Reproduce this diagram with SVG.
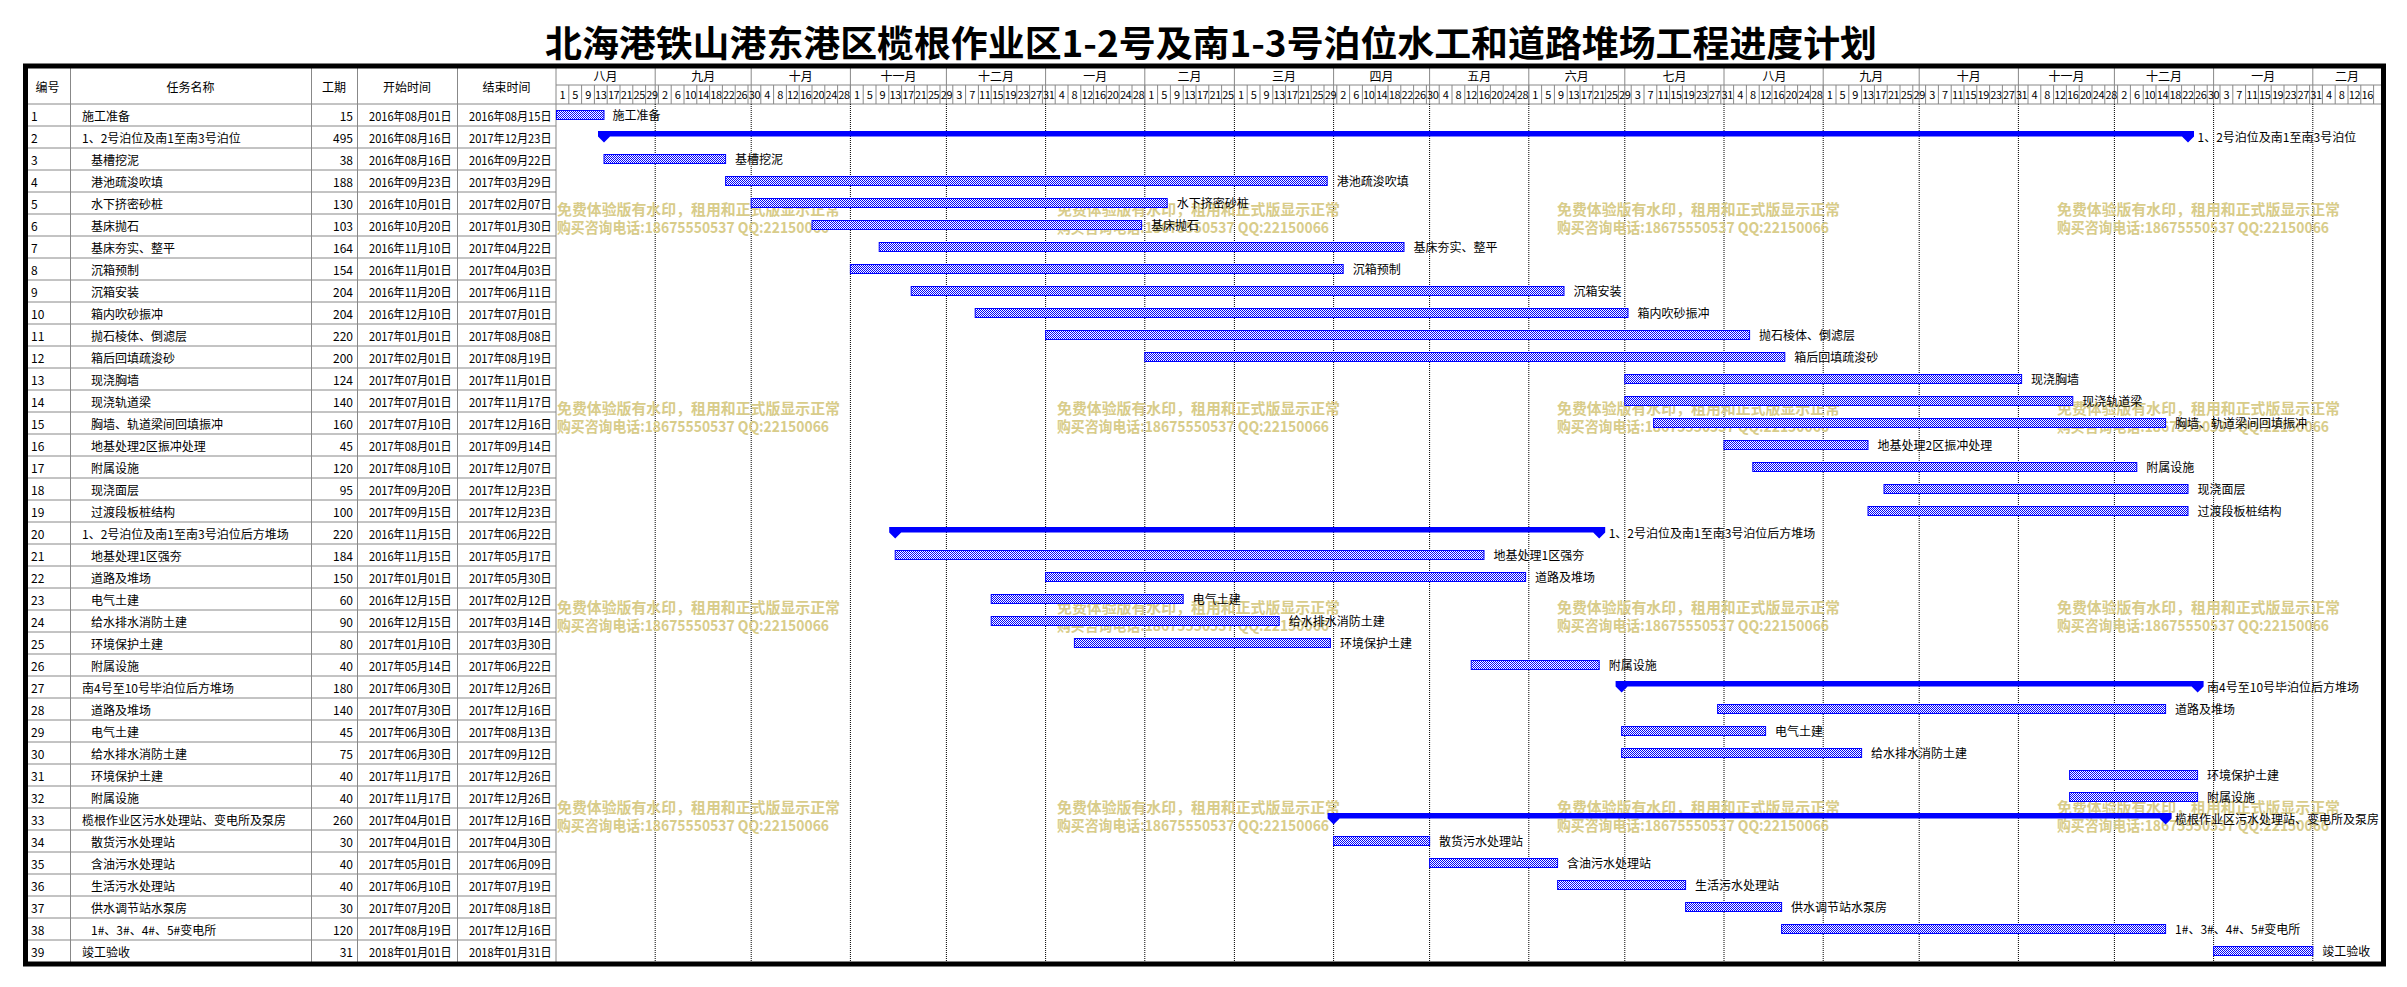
<svg xmlns="http://www.w3.org/2000/svg" width="2407" height="987" viewBox="0 0 2407 987">
<defs>
<pattern id="hatch" width="2" height="2" patternUnits="userSpaceOnUse">
<rect width="2" height="2" fill="#ffffff"/>
<rect width="1" height="1" fill="#0000ff"/>
<rect x="1" y="1" width="1" height="1" fill="#0000ff"/>
</pattern>
</defs>
<style>
text{font-family:"Noto Sans CJK SC","Liberation Sans",sans-serif;fill:#000}
.t{font-size:12px}
.e{text-anchor:end}
.c{text-anchor:middle}
.h{font-size:12px;text-anchor:middle}
.day{font-size:11px;letter-spacing:-0.4px;text-anchor:middle}
.wm{font-size:15px;font-weight:bold;fill:#d8cc8a}
.lbl{font-size:12px}
.bar{fill:url(#hatch);stroke:#0000ff;stroke-width:1}
.sum{fill:#0000ff}
.grid{stroke:#888888;stroke-width:1;fill:none}
.dot{stroke:#000000;stroke-width:1;stroke-dasharray:1 1;fill:none}
</style>
<rect width="2407" height="987" fill="#ffffff"/>
<text x="1211" y="57" font-size="36" font-weight="bold" text-anchor="middle" textLength="1332" lengthAdjust="spacingAndGlyphs">北海港铁山港东港区榄根作业区1-2号及南1-3号泊位水工和道路堆场工程进度计划</text>

<g id="grid">
<path class="grid" d="M70.5 68V962M311.5 68V962M357.5 68V962M457.5 68V962M556 68V962M28 104H2381M556 85H2381M28 126H556M28 148H556M28 170H556M28 192H556M28 214H556M28 236H556M28 258H556M28 280H556M28 302H556M28 324H556M28 346H556M28 368H556M28 390H556M28 412H556M28 434H556M28 456H556M28 478H556M28 500H556M28 522H556M28 544H556M28 566H556M28 588H556M28 610H556M28 632H556M28 654H556M28 676H556M28 698H556M28 720H556M28 742H556M28 764H556M28 786H556M28 808H556M28 830H556M28 852H556M28 874H556M28 896H556M28 918H556M28 940H556"/>
<path class="grid" d="M655.2 68V104M751.2 68V104M850.4 68V104M946.4 68V104M1045.6 68V104M1144.8 68V104M1234.4 68V104M1333.6 68V104M1429.6 68V104M1528.8 68V104M1624.8 68V104M1724 68V104M1823.2 68V104M1919.2 68V104M2018.4 68V104M2114.4 68V104M2213.6 68V104M2312.8 68V104"/>
<path class="grid" d="M568.8 85V104M581.6 85V104M594.4 85V104M607.2 85V104M620 85V104M632.8 85V104M645.6 85V104M658.4 85V104M671.2 85V104M684 85V104M696.8 85V104M709.6 85V104M722.4 85V104M735.2 85V104M748 85V104M760.8 85V104M773.6 85V104M786.4 85V104M799.2 85V104M812 85V104M824.8 85V104M837.6 85V104M850.4 85V104M863.2 85V104M876 85V104M888.8 85V104M901.6 85V104M914.4 85V104M927.2 85V104M940 85V104M952.8 85V104M965.6 85V104M978.4 85V104M991.2 85V104M1004 85V104M1016.8 85V104M1029.6 85V104M1042.4 85V104M1055.2 85V104M1068 85V104M1080.8 85V104M1093.6 85V104M1106.4 85V104M1119.2 85V104M1132 85V104M1144.8 85V104M1157.6 85V104M1170.4 85V104M1183.2 85V104M1196 85V104M1208.8 85V104M1221.6 85V104M1234.4 85V104M1247.2 85V104M1260 85V104M1272.8 85V104M1285.6 85V104M1298.4 85V104M1311.2 85V104M1324 85V104M1336.8 85V104M1349.6 85V104M1362.4 85V104M1375.2 85V104M1388 85V104M1400.8 85V104M1413.6 85V104M1426.4 85V104M1439.2 85V104M1452 85V104M1464.8 85V104M1477.6 85V104M1490.4 85V104M1503.2 85V104M1516 85V104M1528.8 85V104M1541.6 85V104M1554.4 85V104M1567.2 85V104M1580 85V104M1592.8 85V104M1605.6 85V104M1618.4 85V104M1631.2 85V104M1644 85V104M1656.8 85V104M1669.6 85V104M1682.4 85V104M1695.2 85V104M1708 85V104M1720.8 85V104M1733.6 85V104M1746.4 85V104M1759.2 85V104M1772 85V104M1784.8 85V104M1797.6 85V104M1810.4 85V104M1823.2 85V104M1836 85V104M1848.8 85V104M1861.6 85V104M1874.4 85V104M1887.2 85V104M1900 85V104M1912.8 85V104M1925.6 85V104M1938.4 85V104M1951.2 85V104M1964 85V104M1976.8 85V104M1989.6 85V104M2002.4 85V104M2015.2 85V104M2028 85V104M2040.8 85V104M2053.6 85V104M2066.4 85V104M2079.2 85V104M2092 85V104M2104.8 85V104M2117.6 85V104M2130.4 85V104M2143.2 85V104M2156 85V104M2168.8 85V104M2181.6 85V104M2194.4 85V104M2207.2 85V104M2220 85V104M2232.8 85V104M2245.6 85V104M2258.4 85V104M2271.2 85V104M2284 85V104M2296.8 85V104M2309.6 85V104M2322.4 85V104M2335.2 85V104M2348 85V104M2360.8 85V104M2373.6 85V104"/>
<path class="dot" d="M655.2 104V962M751.2 104V962M850.4 104V962M946.4 104V962M1045.6 104V962M1144.8 104V962M1234.4 104V962M1333.6 104V962M1429.6 104V962M1528.8 104V962M1624.8 104V962M1724 104V962M1823.2 104V962M1919.2 104V962M2018.4 104V962M2114.4 104V962M2213.6 104V962M2312.8 104V962"/>
</g>

<g id="header">
<text class="h" x="47.5" y="91.5">编号</text>
<text class="h" x="190.5" y="91.5">任务名称</text>
<text class="h" x="334" y="91.5">工期</text>
<text class="h" x="407" y="91.5">开始时间</text>
<text class="h" x="506.5" y="91.5">结束时间</text>
<text class="h" x="605.6" y="81">八月</text>
<text class="h" x="703.2" y="81">九月</text>
<text class="h" x="800.8" y="81">十月</text>
<text class="h" x="898.4" y="81">十一月</text>
<text class="h" x="996" y="81">十二月</text>
<text class="h" x="1095.2" y="81">一月</text>
<text class="h" x="1189.6" y="81">二月</text>
<text class="h" x="1284" y="81">三月</text>
<text class="h" x="1381.6" y="81">四月</text>
<text class="h" x="1479.2" y="81">五月</text>
<text class="h" x="1576.8" y="81">六月</text>
<text class="h" x="1674.4" y="81">七月</text>
<text class="h" x="1774.4" y="81">八月</text>
<text class="h" x="1871.2" y="81">九月</text>
<text class="h" x="1968.8" y="81">十月</text>
<text class="h" x="2066.4" y="81">十一月</text>
<text class="h" x="2164" y="81">十二月</text>
<text class="h" x="2263.2" y="81">一月</text>
<text class="h" x="2347" y="81">二月</text>
<text class="day" y="99"><tspan x="562.4">1</tspan><tspan x="575.2">5</tspan><tspan x="588">9</tspan><tspan x="600.8">13</tspan><tspan x="613.6">17</tspan><tspan x="626.4">21</tspan><tspan x="639.2">25</tspan><tspan x="652">29</tspan><tspan x="664.8">2</tspan><tspan x="677.6">6</tspan><tspan x="690.4">10</tspan><tspan x="703.2">14</tspan><tspan x="716">18</tspan><tspan x="728.8">22</tspan><tspan x="741.6">26</tspan><tspan x="754.4">30</tspan><tspan x="767.2">4</tspan><tspan x="780">8</tspan><tspan x="792.8">12</tspan><tspan x="805.6">16</tspan><tspan x="818.4">20</tspan><tspan x="831.2">24</tspan><tspan x="844">28</tspan><tspan x="856.8">1</tspan><tspan x="869.6">5</tspan><tspan x="882.4">9</tspan><tspan x="895.2">13</tspan><tspan x="908">17</tspan><tspan x="920.8">21</tspan><tspan x="933.6">25</tspan><tspan x="946.4">29</tspan><tspan x="959.2">3</tspan><tspan x="972">7</tspan><tspan x="984.8">11</tspan><tspan x="997.6">15</tspan><tspan x="1010.4">19</tspan><tspan x="1023.2">23</tspan><tspan x="1036">27</tspan><tspan x="1048.8">31</tspan><tspan x="1061.6">4</tspan><tspan x="1074.4">8</tspan><tspan x="1087.2">12</tspan><tspan x="1100">16</tspan><tspan x="1112.8">20</tspan><tspan x="1125.6">24</tspan><tspan x="1138.4">28</tspan><tspan x="1151.2">1</tspan><tspan x="1164">5</tspan><tspan x="1176.8">9</tspan><tspan x="1189.6">13</tspan><tspan x="1202.4">17</tspan><tspan x="1215.2">21</tspan><tspan x="1228">25</tspan><tspan x="1240.8">1</tspan><tspan x="1253.6">5</tspan><tspan x="1266.4">9</tspan><tspan x="1279.2">13</tspan><tspan x="1292">17</tspan><tspan x="1304.8">21</tspan><tspan x="1317.6">25</tspan><tspan x="1330.4">29</tspan><tspan x="1343.2">2</tspan><tspan x="1356">6</tspan><tspan x="1368.8">10</tspan><tspan x="1381.6">14</tspan><tspan x="1394.4">18</tspan><tspan x="1407.2">22</tspan><tspan x="1420">26</tspan><tspan x="1432.8">30</tspan><tspan x="1445.6">4</tspan><tspan x="1458.4">8</tspan><tspan x="1471.2">12</tspan><tspan x="1484">16</tspan><tspan x="1496.8">20</tspan><tspan x="1509.6">24</tspan><tspan x="1522.4">28</tspan><tspan x="1535.2">1</tspan><tspan x="1548">5</tspan><tspan x="1560.8">9</tspan><tspan x="1573.6">13</tspan><tspan x="1586.4">17</tspan><tspan x="1599.2">21</tspan><tspan x="1612">25</tspan><tspan x="1624.8">29</tspan><tspan x="1637.6">3</tspan><tspan x="1650.4">7</tspan><tspan x="1663.2">11</tspan><tspan x="1676">15</tspan><tspan x="1688.8">19</tspan><tspan x="1701.6">23</tspan><tspan x="1714.4">27</tspan><tspan x="1727.2">31</tspan><tspan x="1740">4</tspan><tspan x="1752.8">8</tspan><tspan x="1765.6">12</tspan><tspan x="1778.4">16</tspan><tspan x="1791.2">20</tspan><tspan x="1804">24</tspan><tspan x="1816.8">28</tspan><tspan x="1829.6">1</tspan><tspan x="1842.4">5</tspan><tspan x="1855.2">9</tspan><tspan x="1868">13</tspan><tspan x="1880.8">17</tspan><tspan x="1893.6">21</tspan><tspan x="1906.4">25</tspan><tspan x="1919.2">29</tspan><tspan x="1932">3</tspan><tspan x="1944.8">7</tspan><tspan x="1957.6">11</tspan><tspan x="1970.4">15</tspan><tspan x="1983.2">19</tspan><tspan x="1996">23</tspan><tspan x="2008.8">27</tspan><tspan x="2021.6">31</tspan><tspan x="2034.4">4</tspan><tspan x="2047.2">8</tspan><tspan x="2060">12</tspan><tspan x="2072.8">16</tspan><tspan x="2085.6">20</tspan><tspan x="2098.4">24</tspan><tspan x="2111.2">28</tspan><tspan x="2124">2</tspan><tspan x="2136.8">6</tspan><tspan x="2149.6">10</tspan><tspan x="2162.4">14</tspan><tspan x="2175.2">18</tspan><tspan x="2188">22</tspan><tspan x="2200.8">26</tspan><tspan x="2213.6">30</tspan><tspan x="2226.4">3</tspan><tspan x="2239.2">7</tspan><tspan x="2252">11</tspan><tspan x="2264.8">15</tspan><tspan x="2277.6">19</tspan><tspan x="2290.4">23</tspan><tspan x="2303.2">27</tspan><tspan x="2316">31</tspan><tspan x="2328.8">4</tspan><tspan x="2341.6">8</tspan><tspan x="2354.4">12</tspan><tspan x="2367.2">16</tspan></text>
</g>

<g id="watermarks">
<text class="wm" x="557" y="214.5" textLength="283" lengthAdjust="spacingAndGlyphs">免费体验版有水印，租用和正式版显示正常</text>
<text class="wm" x="557" y="232.5" textLength="272" lengthAdjust="spacingAndGlyphs">购买咨询电话:18675550537 QQ:22150066</text>
<text class="wm" x="1057" y="214.5" textLength="283" lengthAdjust="spacingAndGlyphs">免费体验版有水印，租用和正式版显示正常</text>
<text class="wm" x="1057" y="232.5" textLength="272" lengthAdjust="spacingAndGlyphs">购买咨询电话:18675550537 QQ:22150066</text>
<text class="wm" x="1557" y="214.5" textLength="283" lengthAdjust="spacingAndGlyphs">免费体验版有水印，租用和正式版显示正常</text>
<text class="wm" x="1557" y="232.5" textLength="272" lengthAdjust="spacingAndGlyphs">购买咨询电话:18675550537 QQ:22150066</text>
<text class="wm" x="2057" y="214.5" textLength="283" lengthAdjust="spacingAndGlyphs">免费体验版有水印，租用和正式版显示正常</text>
<text class="wm" x="2057" y="232.5" textLength="272" lengthAdjust="spacingAndGlyphs">购买咨询电话:18675550537 QQ:22150066</text>
<text class="wm" x="557" y="413.5" textLength="283" lengthAdjust="spacingAndGlyphs">免费体验版有水印，租用和正式版显示正常</text>
<text class="wm" x="557" y="431.5" textLength="272" lengthAdjust="spacingAndGlyphs">购买咨询电话:18675550537 QQ:22150066</text>
<text class="wm" x="1057" y="413.5" textLength="283" lengthAdjust="spacingAndGlyphs">免费体验版有水印，租用和正式版显示正常</text>
<text class="wm" x="1057" y="431.5" textLength="272" lengthAdjust="spacingAndGlyphs">购买咨询电话:18675550537 QQ:22150066</text>
<text class="wm" x="1557" y="413.5" textLength="283" lengthAdjust="spacingAndGlyphs">免费体验版有水印，租用和正式版显示正常</text>
<text class="wm" x="1557" y="431.5" textLength="272" lengthAdjust="spacingAndGlyphs">购买咨询电话:18675550537 QQ:22150066</text>
<text class="wm" x="2057" y="413.5" textLength="283" lengthAdjust="spacingAndGlyphs">免费体验版有水印，租用和正式版显示正常</text>
<text class="wm" x="2057" y="431.5" textLength="272" lengthAdjust="spacingAndGlyphs">购买咨询电话:18675550537 QQ:22150066</text>
<text class="wm" x="557" y="613" textLength="283" lengthAdjust="spacingAndGlyphs">免费体验版有水印，租用和正式版显示正常</text>
<text class="wm" x="557" y="631" textLength="272" lengthAdjust="spacingAndGlyphs">购买咨询电话:18675550537 QQ:22150066</text>
<text class="wm" x="1057" y="613" textLength="283" lengthAdjust="spacingAndGlyphs">免费体验版有水印，租用和正式版显示正常</text>
<text class="wm" x="1057" y="631" textLength="272" lengthAdjust="spacingAndGlyphs">购买咨询电话:18675550537 QQ:22150066</text>
<text class="wm" x="1557" y="613" textLength="283" lengthAdjust="spacingAndGlyphs">免费体验版有水印，租用和正式版显示正常</text>
<text class="wm" x="1557" y="631" textLength="272" lengthAdjust="spacingAndGlyphs">购买咨询电话:18675550537 QQ:22150066</text>
<text class="wm" x="2057" y="613" textLength="283" lengthAdjust="spacingAndGlyphs">免费体验版有水印，租用和正式版显示正常</text>
<text class="wm" x="2057" y="631" textLength="272" lengthAdjust="spacingAndGlyphs">购买咨询电话:18675550537 QQ:22150066</text>
<text class="wm" x="557" y="813" textLength="283" lengthAdjust="spacingAndGlyphs">免费体验版有水印，租用和正式版显示正常</text>
<text class="wm" x="557" y="831" textLength="272" lengthAdjust="spacingAndGlyphs">购买咨询电话:18675550537 QQ:22150066</text>
<text class="wm" x="1057" y="813" textLength="283" lengthAdjust="spacingAndGlyphs">免费体验版有水印，租用和正式版显示正常</text>
<text class="wm" x="1057" y="831" textLength="272" lengthAdjust="spacingAndGlyphs">购买咨询电话:18675550537 QQ:22150066</text>
<text class="wm" x="1557" y="813" textLength="283" lengthAdjust="spacingAndGlyphs">免费体验版有水印，租用和正式版显示正常</text>
<text class="wm" x="1557" y="831" textLength="272" lengthAdjust="spacingAndGlyphs">购买咨询电话:18675550537 QQ:22150066</text>
<text class="wm" x="2057" y="813" textLength="283" lengthAdjust="spacingAndGlyphs">免费体验版有水印，租用和正式版显示正常</text>
<text class="wm" x="2057" y="831" textLength="272" lengthAdjust="spacingAndGlyphs">购买咨询电话:18675550537 QQ:22150066</text>
</g>

<g id="connectors"></g>

<g id="task-1"><text class="t" x="31" y="120.5">1</text><text class="t" x="82" y="120.5">施工准备</text><text class="t e" x="353" y="120.5">15</text><text class="t" x="369" y="120.5" textLength="82.5" lengthAdjust="spacingAndGlyphs">2016年08月01日</text><text class="t" x="469" y="120.5" textLength="82.5" lengthAdjust="spacingAndGlyphs">2016年08月15日</text><rect class="bar" x="556.5" y="110.5" width="47.5" height="9"/><text class="lbl" x="612.5" y="120">施工准备</text></g>
<g id="task-2"><text class="t" x="31" y="142.5">2</text><text class="t" x="82" y="142.5">1、2号泊位及南1至南3号泊位</text><text class="t e" x="353" y="142.5">495</text><text class="t" x="369" y="142.5" textLength="82.5" lengthAdjust="spacingAndGlyphs">2016年08月16日</text><text class="t" x="469" y="142.5" textLength="82.5" lengthAdjust="spacingAndGlyphs">2017年12月23日</text><path class="sum" d="M598 131H2194V136.5L2188 142.5L2182 136.5H610L604 142.5L598 136.5Z"/><text class="lbl" x="2197.5" y="142">1、2号泊位及南1至南3号泊位</text></g>
<g id="task-3"><text class="t" x="31" y="164.5">3</text><text class="t" x="91" y="164.5">基槽挖泥</text><text class="t e" x="353" y="164.5">38</text><text class="t" x="369" y="164.5" textLength="82.5" lengthAdjust="spacingAndGlyphs">2016年08月16日</text><text class="t" x="469" y="164.5" textLength="82.5" lengthAdjust="spacingAndGlyphs">2016年09月22日</text><rect class="bar" x="604" y="154.5" width="121.6" height="9"/><text class="lbl" x="735.1" y="164">基槽挖泥</text></g>
<g id="task-4"><text class="t" x="31" y="186.5">4</text><text class="t" x="91" y="186.5">港池疏浚吹填</text><text class="t e" x="353" y="186.5">188</text><text class="t" x="369" y="186.5" textLength="82.5" lengthAdjust="spacingAndGlyphs">2016年09月23日</text><text class="t" x="469" y="186.5" textLength="82.5" lengthAdjust="spacingAndGlyphs">2017年03月29日</text><rect class="bar" x="725.6" y="176.5" width="601.6" height="9"/><text class="lbl" x="1336.7" y="186">港池疏浚吹填</text></g>
<g id="task-5"><text class="t" x="31" y="208.5">5</text><text class="t" x="91" y="208.5">水下挤密砂桩</text><text class="t e" x="353" y="208.5">130</text><text class="t" x="369" y="208.5" textLength="82.5" lengthAdjust="spacingAndGlyphs">2016年10月01日</text><text class="t" x="469" y="208.5" textLength="82.5" lengthAdjust="spacingAndGlyphs">2017年02月07日</text><rect class="bar" x="751.2" y="198.5" width="416" height="9"/><text class="lbl" x="1176.7" y="208">水下挤密砂桩</text></g>
<g id="task-6"><text class="t" x="31" y="230.5">6</text><text class="t" x="91" y="230.5">基床抛石</text><text class="t e" x="353" y="230.5">103</text><text class="t" x="369" y="230.5" textLength="82.5" lengthAdjust="spacingAndGlyphs">2016年10月20日</text><text class="t" x="469" y="230.5" textLength="82.5" lengthAdjust="spacingAndGlyphs">2017年01月30日</text><rect class="bar" x="812" y="220.5" width="329.6" height="9"/><text class="lbl" x="1151.1" y="230">基床抛石</text></g>
<g id="task-7"><text class="t" x="31" y="252.5">7</text><text class="t" x="91" y="252.5">基床夯实、整平</text><text class="t e" x="353" y="252.5">164</text><text class="t" x="369" y="252.5" textLength="82.5" lengthAdjust="spacingAndGlyphs">2016年11月10日</text><text class="t" x="469" y="252.5" textLength="82.5" lengthAdjust="spacingAndGlyphs">2017年04月22日</text><rect class="bar" x="879.2" y="242.5" width="524.8" height="9"/><text class="lbl" x="1413.5" y="252">基床夯实、整平</text></g>
<g id="task-8"><text class="t" x="31" y="274.5">8</text><text class="t" x="91" y="274.5">沉箱预制</text><text class="t e" x="353" y="274.5">154</text><text class="t" x="369" y="274.5" textLength="82.5" lengthAdjust="spacingAndGlyphs">2016年11月01日</text><text class="t" x="469" y="274.5" textLength="82.5" lengthAdjust="spacingAndGlyphs">2017年04月03日</text><rect class="bar" x="850.4" y="264.5" width="492.8" height="9"/><text class="lbl" x="1352.7" y="274">沉箱预制</text></g>
<g id="task-9"><text class="t" x="31" y="296.5">9</text><text class="t" x="91" y="296.5">沉箱安装</text><text class="t e" x="353" y="296.5">204</text><text class="t" x="369" y="296.5" textLength="82.5" lengthAdjust="spacingAndGlyphs">2016年11月20日</text><text class="t" x="469" y="296.5" textLength="82.5" lengthAdjust="spacingAndGlyphs">2017年06月11日</text><rect class="bar" x="911.2" y="286.5" width="652.8" height="9"/><text class="lbl" x="1573.5" y="296">沉箱安装</text></g>
<g id="task-10"><text class="t" x="31" y="318.5">10</text><text class="t" x="91" y="318.5">箱内吹砂振冲</text><text class="t e" x="353" y="318.5">204</text><text class="t" x="369" y="318.5" textLength="82.5" lengthAdjust="spacingAndGlyphs">2016年12月10日</text><text class="t" x="469" y="318.5" textLength="82.5" lengthAdjust="spacingAndGlyphs">2017年07月01日</text><rect class="bar" x="975.2" y="308.5" width="652.8" height="9"/><text class="lbl" x="1637.5" y="318">箱内吹砂振冲</text></g>
<g id="task-11"><text class="t" x="31" y="340.5">11</text><text class="t" x="91" y="340.5">抛石棱体、倒滤层</text><text class="t e" x="353" y="340.5">220</text><text class="t" x="369" y="340.5" textLength="82.5" lengthAdjust="spacingAndGlyphs">2017年01月01日</text><text class="t" x="469" y="340.5" textLength="82.5" lengthAdjust="spacingAndGlyphs">2017年08月08日</text><rect class="bar" x="1045.6" y="330.5" width="704" height="9"/><text class="lbl" x="1759.1" y="340">抛石棱体、倒滤层</text></g>
<g id="task-12"><text class="t" x="31" y="362.5">12</text><text class="t" x="91" y="362.5">箱后回填疏浚砂</text><text class="t e" x="353" y="362.5">200</text><text class="t" x="369" y="362.5" textLength="82.5" lengthAdjust="spacingAndGlyphs">2017年02月01日</text><text class="t" x="469" y="362.5" textLength="82.5" lengthAdjust="spacingAndGlyphs">2017年08月19日</text><rect class="bar" x="1144.8" y="352.5" width="640" height="9"/><text class="lbl" x="1794.3" y="362">箱后回填疏浚砂</text></g>
<g id="task-13"><text class="t" x="31" y="384.5">13</text><text class="t" x="91" y="384.5">现浇胸墙</text><text class="t e" x="353" y="384.5">124</text><text class="t" x="369" y="384.5" textLength="82.5" lengthAdjust="spacingAndGlyphs">2017年07月01日</text><text class="t" x="469" y="384.5" textLength="82.5" lengthAdjust="spacingAndGlyphs">2017年11月01日</text><rect class="bar" x="1624.8" y="374.5" width="396.8" height="9"/><text class="lbl" x="2031.1" y="384">现浇胸墙</text></g>
<g id="task-14"><text class="t" x="31" y="406.5">14</text><text class="t" x="91" y="406.5">现浇轨道梁</text><text class="t e" x="353" y="406.5">140</text><text class="t" x="369" y="406.5" textLength="82.5" lengthAdjust="spacingAndGlyphs">2017年07月01日</text><text class="t" x="469" y="406.5" textLength="82.5" lengthAdjust="spacingAndGlyphs">2017年11月17日</text><rect class="bar" x="1624.8" y="396.5" width="448" height="9"/><text class="lbl" x="2082.3" y="406">现浇轨道梁</text></g>
<g id="task-15"><text class="t" x="31" y="428.5">15</text><text class="t" x="91" y="428.5">胸墙、轨道梁间回填振冲</text><text class="t e" x="353" y="428.5">160</text><text class="t" x="369" y="428.5" textLength="82.5" lengthAdjust="spacingAndGlyphs">2017年07月10日</text><text class="t" x="469" y="428.5" textLength="82.5" lengthAdjust="spacingAndGlyphs">2017年12月16日</text><rect class="bar" x="1653.6" y="418.5" width="512" height="9"/><text class="lbl" x="2175.1" y="428">胸墙、轨道梁间回填振冲</text></g>
<g id="task-16"><text class="t" x="31" y="450.5">16</text><text class="t" x="91" y="450.5">地基处理2区振冲处理</text><text class="t e" x="353" y="450.5">45</text><text class="t" x="369" y="450.5" textLength="82.5" lengthAdjust="spacingAndGlyphs">2017年08月01日</text><text class="t" x="469" y="450.5" textLength="82.5" lengthAdjust="spacingAndGlyphs">2017年09月14日</text><rect class="bar" x="1724" y="440.5" width="144" height="9"/><text class="lbl" x="1877.5" y="450">地基处理2区振冲处理</text></g>
<g id="task-17"><text class="t" x="31" y="472.5">17</text><text class="t" x="91" y="472.5">附属设施</text><text class="t e" x="353" y="472.5">120</text><text class="t" x="369" y="472.5" textLength="82.5" lengthAdjust="spacingAndGlyphs">2017年08月10日</text><text class="t" x="469" y="472.5" textLength="82.5" lengthAdjust="spacingAndGlyphs">2017年12月07日</text><rect class="bar" x="1752.8" y="462.5" width="384" height="9"/><text class="lbl" x="2146.3" y="472">附属设施</text></g>
<g id="task-18"><text class="t" x="31" y="494.5">18</text><text class="t" x="91" y="494.5">现浇面层</text><text class="t e" x="353" y="494.5">95</text><text class="t" x="369" y="494.5" textLength="82.5" lengthAdjust="spacingAndGlyphs">2017年09月20日</text><text class="t" x="469" y="494.5" textLength="82.5" lengthAdjust="spacingAndGlyphs">2017年12月23日</text><rect class="bar" x="1884" y="484.5" width="304" height="9"/><text class="lbl" x="2197.5" y="494">现浇面层</text></g>
<g id="task-19"><text class="t" x="31" y="516.5">19</text><text class="t" x="91" y="516.5">过渡段板桩结构</text><text class="t e" x="353" y="516.5">100</text><text class="t" x="369" y="516.5" textLength="82.5" lengthAdjust="spacingAndGlyphs">2017年09月15日</text><text class="t" x="469" y="516.5" textLength="82.5" lengthAdjust="spacingAndGlyphs">2017年12月23日</text><rect class="bar" x="1868" y="506.5" width="320" height="9"/><text class="lbl" x="2197.5" y="516">过渡段板桩结构</text></g>
<g id="task-20"><text class="t" x="31" y="538.5">20</text><text class="t" x="82" y="538.5">1、2号泊位及南1至南3号泊位后方堆场</text><text class="t e" x="353" y="538.5">220</text><text class="t" x="369" y="538.5" textLength="82.5" lengthAdjust="spacingAndGlyphs">2016年11月15日</text><text class="t" x="469" y="538.5" textLength="82.5" lengthAdjust="spacingAndGlyphs">2017年06月22日</text><path class="sum" d="M889.2 527H1605.2V532.5L1599.2 538.5L1593.2 532.5H901.2L895.2 538.5L889.2 532.5Z"/><text class="lbl" x="1608.7" y="538">1、2号泊位及南1至南3号泊位后方堆场</text></g>
<g id="task-21"><text class="t" x="31" y="560.5">21</text><text class="t" x="91" y="560.5">地基处理1区强夯</text><text class="t e" x="353" y="560.5">184</text><text class="t" x="369" y="560.5" textLength="82.5" lengthAdjust="spacingAndGlyphs">2016年11月15日</text><text class="t" x="469" y="560.5" textLength="82.5" lengthAdjust="spacingAndGlyphs">2017年05月17日</text><rect class="bar" x="895.2" y="550.5" width="588.8" height="9"/><text class="lbl" x="1493.5" y="560">地基处理1区强夯</text></g>
<g id="task-22"><text class="t" x="31" y="582.5">22</text><text class="t" x="91" y="582.5">道路及堆场</text><text class="t e" x="353" y="582.5">150</text><text class="t" x="369" y="582.5" textLength="82.5" lengthAdjust="spacingAndGlyphs">2017年01月01日</text><text class="t" x="469" y="582.5" textLength="82.5" lengthAdjust="spacingAndGlyphs">2017年05月30日</text><rect class="bar" x="1045.6" y="572.5" width="480" height="9"/><text class="lbl" x="1535.1" y="582">道路及堆场</text></g>
<g id="task-23"><text class="t" x="31" y="604.5">23</text><text class="t" x="91" y="604.5">电气土建</text><text class="t e" x="353" y="604.5">60</text><text class="t" x="369" y="604.5" textLength="82.5" lengthAdjust="spacingAndGlyphs">2016年12月15日</text><text class="t" x="469" y="604.5" textLength="82.5" lengthAdjust="spacingAndGlyphs">2017年02月12日</text><rect class="bar" x="991.2" y="594.5" width="192" height="9"/><text class="lbl" x="1192.7" y="604">电气土建</text></g>
<g id="task-24"><text class="t" x="31" y="626.5">24</text><text class="t" x="91" y="626.5">给水排水消防土建</text><text class="t e" x="353" y="626.5">90</text><text class="t" x="369" y="626.5" textLength="82.5" lengthAdjust="spacingAndGlyphs">2016年12月15日</text><text class="t" x="469" y="626.5" textLength="82.5" lengthAdjust="spacingAndGlyphs">2017年03月14日</text><rect class="bar" x="991.2" y="616.5" width="288" height="9"/><text class="lbl" x="1288.7" y="626">给水排水消防土建</text></g>
<g id="task-25"><text class="t" x="31" y="648.5">25</text><text class="t" x="91" y="648.5">环境保护土建</text><text class="t e" x="353" y="648.5">80</text><text class="t" x="369" y="648.5" textLength="82.5" lengthAdjust="spacingAndGlyphs">2017年01月10日</text><text class="t" x="469" y="648.5" textLength="82.5" lengthAdjust="spacingAndGlyphs">2017年03月30日</text><rect class="bar" x="1074.4" y="638.5" width="256" height="9"/><text class="lbl" x="1339.9" y="648">环境保护土建</text></g>
<g id="task-26"><text class="t" x="31" y="670.5">26</text><text class="t" x="91" y="670.5">附属设施</text><text class="t e" x="353" y="670.5">40</text><text class="t" x="369" y="670.5" textLength="82.5" lengthAdjust="spacingAndGlyphs">2017年05月14日</text><text class="t" x="469" y="670.5" textLength="82.5" lengthAdjust="spacingAndGlyphs">2017年06月22日</text><rect class="bar" x="1471.2" y="660.5" width="128" height="9"/><text class="lbl" x="1608.7" y="670">附属设施</text></g>
<g id="task-27"><text class="t" x="31" y="692.5">27</text><text class="t" x="82" y="692.5">南4号至10号毕泊位后方堆场</text><text class="t e" x="353" y="692.5">180</text><text class="t" x="369" y="692.5" textLength="82.5" lengthAdjust="spacingAndGlyphs">2017年06月30日</text><text class="t" x="469" y="692.5" textLength="82.5" lengthAdjust="spacingAndGlyphs">2017年12月26日</text><path class="sum" d="M1615.6 681H2203.6V686.5L2197.6 692.5L2191.6 686.5H1627.6L1621.6 692.5L1615.6 686.5Z"/><text class="lbl" x="2207.1" y="692">南4号至10号毕泊位后方堆场</text></g>
<g id="task-28"><text class="t" x="31" y="714.5">28</text><text class="t" x="91" y="714.5">道路及堆场</text><text class="t e" x="353" y="714.5">140</text><text class="t" x="369" y="714.5" textLength="82.5" lengthAdjust="spacingAndGlyphs">2017年07月30日</text><text class="t" x="469" y="714.5" textLength="82.5" lengthAdjust="spacingAndGlyphs">2017年12月16日</text><rect class="bar" x="1717.6" y="704.5" width="448" height="9"/><text class="lbl" x="2175.1" y="714">道路及堆场</text></g>
<g id="task-29"><text class="t" x="31" y="736.5">29</text><text class="t" x="91" y="736.5">电气土建</text><text class="t e" x="353" y="736.5">45</text><text class="t" x="369" y="736.5" textLength="82.5" lengthAdjust="spacingAndGlyphs">2017年06月30日</text><text class="t" x="469" y="736.5" textLength="82.5" lengthAdjust="spacingAndGlyphs">2017年08月13日</text><rect class="bar" x="1621.6" y="726.5" width="144" height="9"/><text class="lbl" x="1775.1" y="736">电气土建</text></g>
<g id="task-30"><text class="t" x="31" y="758.5">30</text><text class="t" x="91" y="758.5">给水排水消防土建</text><text class="t e" x="353" y="758.5">75</text><text class="t" x="369" y="758.5" textLength="82.5" lengthAdjust="spacingAndGlyphs">2017年06月30日</text><text class="t" x="469" y="758.5" textLength="82.5" lengthAdjust="spacingAndGlyphs">2017年09月12日</text><rect class="bar" x="1621.6" y="748.5" width="240" height="9"/><text class="lbl" x="1871.1" y="758">给水排水消防土建</text></g>
<g id="task-31"><text class="t" x="31" y="780.5">31</text><text class="t" x="91" y="780.5">环境保护土建</text><text class="t e" x="353" y="780.5">40</text><text class="t" x="369" y="780.5" textLength="82.5" lengthAdjust="spacingAndGlyphs">2017年11月17日</text><text class="t" x="469" y="780.5" textLength="82.5" lengthAdjust="spacingAndGlyphs">2017年12月26日</text><rect class="bar" x="2069.6" y="770.5" width="128" height="9"/><text class="lbl" x="2207.1" y="780">环境保护土建</text></g>
<g id="task-32"><text class="t" x="31" y="802.5">32</text><text class="t" x="91" y="802.5">附属设施</text><text class="t e" x="353" y="802.5">40</text><text class="t" x="369" y="802.5" textLength="82.5" lengthAdjust="spacingAndGlyphs">2017年11月17日</text><text class="t" x="469" y="802.5" textLength="82.5" lengthAdjust="spacingAndGlyphs">2017年12月26日</text><rect class="bar" x="2069.6" y="792.5" width="128" height="9"/><text class="lbl" x="2207.1" y="802">附属设施</text></g>
<g id="task-33"><text class="t" x="31" y="824.5">33</text><text class="t" x="82" y="824.5">榄根作业区污水处理站、变电所及泵房</text><text class="t e" x="353" y="824.5">260</text><text class="t" x="369" y="824.5" textLength="82.5" lengthAdjust="spacingAndGlyphs">2017年04月01日</text><text class="t" x="469" y="824.5" textLength="82.5" lengthAdjust="spacingAndGlyphs">2017年12月16日</text><path class="sum" d="M1327.6 813H2171.6V818.5L2165.6 824.5L2159.6 818.5H1339.6L1333.6 824.5L1327.6 818.5Z"/><text class="lbl" x="2175.1" y="824">榄根作业区污水处理站、变电所及泵房</text></g>
<g id="task-34"><text class="t" x="31" y="846.5">34</text><text class="t" x="91" y="846.5">散货污水处理站</text><text class="t e" x="353" y="846.5">30</text><text class="t" x="369" y="846.5" textLength="82.5" lengthAdjust="spacingAndGlyphs">2017年04月01日</text><text class="t" x="469" y="846.5" textLength="82.5" lengthAdjust="spacingAndGlyphs">2017年04月30日</text><rect class="bar" x="1333.6" y="836.5" width="96" height="9"/><text class="lbl" x="1439.1" y="846">散货污水处理站</text></g>
<g id="task-35"><text class="t" x="31" y="868.5">35</text><text class="t" x="91" y="868.5">含油污水处理站</text><text class="t e" x="353" y="868.5">40</text><text class="t" x="369" y="868.5" textLength="82.5" lengthAdjust="spacingAndGlyphs">2017年05月01日</text><text class="t" x="469" y="868.5" textLength="82.5" lengthAdjust="spacingAndGlyphs">2017年06月09日</text><rect class="bar" x="1429.6" y="858.5" width="128" height="9"/><text class="lbl" x="1567.1" y="868">含油污水处理站</text></g>
<g id="task-36"><text class="t" x="31" y="890.5">36</text><text class="t" x="91" y="890.5">生活污水处理站</text><text class="t e" x="353" y="890.5">40</text><text class="t" x="369" y="890.5" textLength="82.5" lengthAdjust="spacingAndGlyphs">2017年06月10日</text><text class="t" x="469" y="890.5" textLength="82.5" lengthAdjust="spacingAndGlyphs">2017年07月19日</text><rect class="bar" x="1557.6" y="880.5" width="128" height="9"/><text class="lbl" x="1695.1" y="890">生活污水处理站</text></g>
<g id="task-37"><text class="t" x="31" y="912.5">37</text><text class="t" x="91" y="912.5">供水调节站水泵房</text><text class="t e" x="353" y="912.5">30</text><text class="t" x="369" y="912.5" textLength="82.5" lengthAdjust="spacingAndGlyphs">2017年07月20日</text><text class="t" x="469" y="912.5" textLength="82.5" lengthAdjust="spacingAndGlyphs">2017年08月18日</text><rect class="bar" x="1685.6" y="902.5" width="96" height="9"/><text class="lbl" x="1791.1" y="912">供水调节站水泵房</text></g>
<g id="task-38"><text class="t" x="31" y="934.5">38</text><text class="t" x="91" y="934.5">1#、3#、4#、5#变电所</text><text class="t e" x="353" y="934.5">120</text><text class="t" x="369" y="934.5" textLength="82.5" lengthAdjust="spacingAndGlyphs">2017年08月19日</text><text class="t" x="469" y="934.5" textLength="82.5" lengthAdjust="spacingAndGlyphs">2017年12月16日</text><rect class="bar" x="1781.6" y="924.5" width="384" height="9"/><text class="lbl" x="2175.1" y="934">1#、3#、4#、5#变电所</text></g>
<g id="task-39"><text class="t" x="31" y="956.5">39</text><text class="t" x="82" y="956.5">竣工验收</text><text class="t e" x="353" y="956.5">31</text><text class="t" x="369" y="956.5" textLength="82.5" lengthAdjust="spacingAndGlyphs">2018年01月01日</text><text class="t" x="469" y="956.5" textLength="82.5" lengthAdjust="spacingAndGlyphs">2018年01月31日</text><rect class="bar" x="2213.6" y="946.5" width="99.2" height="9"/><text class="lbl" x="2322.3" y="956">竣工验收</text></g>

<rect id="frame" x="25.5" y="66" width="2358" height="898" fill="none" stroke="#000000" stroke-width="5"/>
</svg>
